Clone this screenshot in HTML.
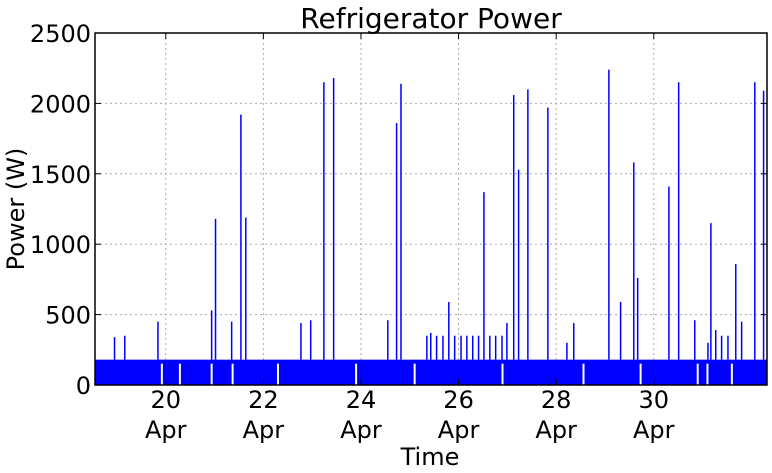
<!DOCTYPE html>
<html><head><meta charset="utf-8"><style>
body{margin:0;background:#fff}
svg{display:block;font-family:"DejaVu Sans","Liberation Sans",sans-serif}
</style></head><body>
<svg id="chart" width="772" height="473">
<text x="431" y="28" font-size="28" text-anchor="middle">Refrigerator Power</text>
<g id="grid"></g><g id="marks"></g><g id="axes"></g>
<text x="430" y="465" font-size="24" text-anchor="middle">Time</text>
<text transform="translate(24,209) rotate(-90)" font-size="24" text-anchor="middle">Power (W)</text>
</svg>
<script>
const xTickDays=[20,22,24,26,28,30];
const xTickLabels=["20","22","24","26","28","30"];
const yTicks=[0,500,1000,1500,2000,2500];
const baselineLevel=180;
const spikeDays=[18.95,19.16,19.84,20.94,21.02,21.35,21.54,21.64,22.77,22.97,23.24,23.44,24.55,24.73,24.82,25.35,25.43,25.55,25.68,25.80,25.92,26.05,26.17,26.29,26.41,26.52,26.64,26.76,26.89,26.99,27.13,27.23,27.42,27.83,28.22,28.36,29.08,29.32,29.59,29.67,30.31,30.51,30.84,31.11,31.17,31.27,31.39,31.52,31.68,31.80,32.07,32.25];
const spikeValues=[340,350,450,530,1180,450,1920,1190,440,460,2150,2180,460,1860,2140,350,370,350,350,590,350,350,350,350,350,1370,350,350,350,440,2060,1530,2100,1970,300,440,2240,590,1580,760,1410,2150,460,300,1150,390,350,350,860,450,2150,2090];
const gapDays=[19.92,20.29,20.94,21.37,22.30,23.9,25.1,26.9,28.56,29.73,30.9,31.1,31.6];
const X0=95,X1=767,Y0=385,Y1=33,D0=18.55,D1=32.32;
const xs=d=>X0+(d-D0)/(D1-D0)*(X1-X0);
const ys=v=>Y0-v/2500*(Y0-Y1);
const NS="http://www.w3.org/2000/svg";
function mk(tag,attrs,parent){const e=document.createElementNS(NS,tag);for(const k in attrs)e.setAttribute(k,attrs[k]);parent.appendChild(e);return e;}
const grid=document.getElementById('grid'),marks=document.getElementById('marks'),axes=document.getElementById('axes');
xTickDays.forEach((d,i)=>{
 const g=mk('line',{x1:xs(d),x2:xs(d),y1:Y1,y2:Y0,stroke:'#aaa','stroke-dasharray':'2,3'},grid);
 
 
 const t=mk('text',{x:xs(d),y:408,'font-size':24,'text-anchor':'middle'},axes);t.textContent=xTickLabels[i];
 
 
 const t2=mk('text',{x:xs(d),y:438,'font-size':24,'text-anchor':'middle'},axes);t2.textContent='Apr';
 
 
 mk('line',{x1:xs(d),x2:xs(d),y1:Y0,y2:Y0-6,stroke:'#000'},axes);
 mk('line',{x1:xs(d),x2:xs(d),y1:Y1,y2:Y1+6,stroke:'#000'},axes);
});
yTicks.forEach(v=>{
 if(v>0&&v<2500){const g=mk('line',{x1:X0,x2:X1,y1:ys(v),y2:ys(v),stroke:'#aaa','stroke-dasharray':'2,3'},grid);
 
 }
 const t=mk('text',{x:X0-4,y:ys(v)+9,'font-size':24,'text-anchor':'end'},axes);t.textContent=v;
 
 
 mk('line',{x1:X0,x2:X0+6,y1:ys(v),y2:ys(v),stroke:'#000'},axes);
 mk('line',{x1:X1,x2:X1-6,y1:ys(v),y2:ys(v),stroke:'#000'},axes);
});
const base=mk('rect',{x:X0,y:ys(baselineLevel),width:X1-X0,height:Y0-ys(baselineLevel),fill:'#0000ff'},marks);


gapDays.forEach(d=>{
 const g=mk('line',{x1:xs(d),x2:xs(d),y1:ys(baselineLevel)+4,y2:Y0,stroke:'#fff','stroke-width':2},marks);
 
 
});
spikeDays.forEach((d,i)=>{
 const s=mk('line',{x1:xs(d),x2:xs(d),y1:ys(spikeValues[i]),y2:ys(baselineLevel),stroke:'#0000ff','stroke-width':1.5},marks);
 
 
});
const box=mk('rect',{x:X0,y:Y1,width:X1-X0,height:Y0-Y1,fill:'none',stroke:'#000','stroke-width':1.5},axes);


</script>
</body></html>
